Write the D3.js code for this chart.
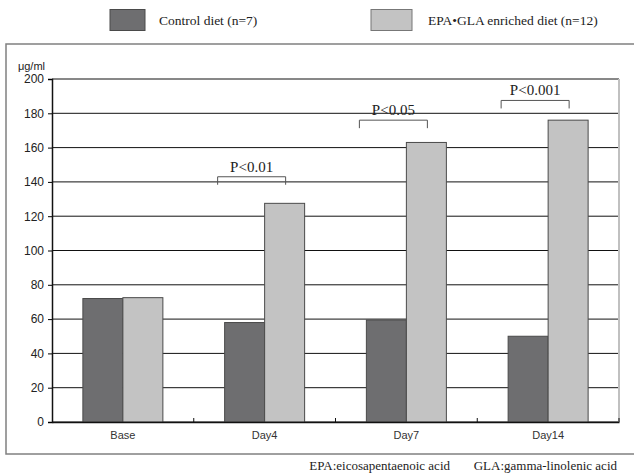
<!DOCTYPE html>
<html>
<head>
<meta charset="utf-8">
<script src="https://cdn.jsdelivr.net/npm/d3@7"></script>
<style>
  body { margin: 0; background: #fff; }
  .tick text { font-family: "Liberation Sans", Arial, sans-serif; }
</style>
</head>
<body>
<div id="chart"></div>
<script>
var categories = ["Base", "Day4", "Day7", "Day14"];
var controlValues = [72, 58, 59.5, 50];
var epaValues = [72.5, 127.5, 163, 176];
var seriesNames = ["Control diet (n=7)", "EPA\u2022GLA enriched diet (n=12)"];
var yTicks = [0, 20, 40, 60, 80, 100, 120, 140, 160, 180, 200];
var sigLabels = ["P<0.01", "P<0.05", "P<0.001"];
var sigCategories = ["Day4", "Day7", "Day14"];
var sigLevels = [143, 176, 187.5];
var footnotes = ["EPA:eicosapentaenoic acid", "GLA:gamma-linolenic acid"];

var w = 634;
var h = 475;
var colors = ["#6e6e70", "#c3c3c3"];

var svg = d3
  .select("#chart")
  .append("svg")
  .attr("width", w)
  .attr("height", h);

// outer frame
svg.append("rect")
  .attr("x", 6)
  .attr("y", 44)
  .attr("width", 640)
  .attr("height", 410)
  .attr("fill", "none")
  .attr("stroke", "#808080")
  .attr("stroke-width", 1.5);

// legend
var legend = svg.append("g");
var legendX = [110, 371];
var legendTextX = [159, 428];
seriesNames.forEach(function(name, i) {
  legend.append("rect")
    .attr("x", legendX[i])
    .attr("y", 9.5)
    .attr("width", i == 0 ? 35 : 41)
    .attr("height", 21)
    .attr("fill", colors[i])
    .attr("stroke", i == 0 ? "#4a4a4a" : "#777");
  legend.append("text")
    .attr("x", legendTextX[i])
    .attr("y", 25)
    .attr("font-family", "Liberation Serif, Times New Roman, serif")
    .attr("font-size", 13.5)
    .attr("fill", "#222")
    .text(name);
});

var x = d3
  .scaleBand()
  .domain(categories)
  .range([52, 619]);

var y = d3
  .scaleLinear()
  .domain([0, 200])
  .range([422, 79]);

var inner = d3
  .scaleBand()
  .domain([0, 1])
  .range([0, 80]);

// gridlines
svg.append("g")
  .selectAll("line")
  .data(yTicks)
  .enter()
  .append("line")
  .attr("x1", 52)
  .attr("x2", 619)
  .attr("y1", function(d) { return y(d); })
  .attr("y2", function(d) { return y(d); })
  .attr("stroke", "#111")
  .attr("stroke-width", 1);

// right border of plot area
svg.append("line")
  .attr("x1", 619)
  .attr("x2", 619)
  .attr("y1", y(200))
  .attr("y2", y(0))
  .attr("stroke", "#c0c0c0")
  .attr("stroke-width", 2);

// bars
var groups = svg.append("g")
  .selectAll("g")
  .data(categories)
  .enter()
  .append("g")
  .attr("transform", function(d) {
    return "translate(" + (x(d) + x.bandwidth() / 2 - 40) + ",0)";
  });

groups.selectAll("rect")
  .data(function(d, i) { return [controlValues[i], epaValues[i]]; })
  .enter()
  .append("rect")
  .attr("x", function(d, i) { return inner(i); })
  .attr("y", function(d) { return y(d); })
  .attr("width", inner.bandwidth())
  .attr("height", function(d) { return y(0) - y(d); })
  .attr("fill", function(d, i) { return colors[i]; })
  .attr("stroke", "#4a4a4a")
  .attr("stroke-width", 1);

// significance brackets
sigCategories.forEach(function(c, i) {
  var cx = x(c) + x.bandwidth() / 2;
  var x1 = cx - 47;
  var x2 = cx + 21;
  var yb = y(sigLevels[i]);
  svg.append("path")
    .attr("d", "M" + x1 + "," + (yb + 8) + "V" + yb + "H" + x2 + "V" + (yb + 8))
    .attr("fill", "none")
    .attr("stroke", "#555")
    .attr("stroke-width", 1);
  svg.append("text")
    .attr("x", (x1 + x2) / 2)
    .attr("y", yb - 5)
    .attr("text-anchor", "middle")
    .attr("font-family", "Liberation Serif, Times New Roman, serif")
    .attr("font-size", 15)
    .attr("fill", "#222")
    .text(sigLabels[i]);
});

// axes
var xAxis = d3.axisBottom(x).tickSize(0).tickPadding(9);
var yAxis = d3.axisLeft(y).tickValues(yTicks).tickSize(4).tickPadding(4);

var gx = svg.append("g")
  .attr("class", "x axis")
  .attr("transform", "translate(0," + y(0) + ")")
  .call(xAxis);
gx.select(".domain").attr("stroke", "#111").attr("stroke-width", 1.5);
gx.selectAll("text").attr("font-size", 11).attr("fill", "#333");

// inner separator ticks between categories
gx.selectAll(".sep")
  .data(categories)
  .enter()
  .append("line")
  .attr("class", "sep")
  .attr("x1", function(d) { return x(d) + x.bandwidth(); })
  .attr("x2", function(d) { return x(d) + x.bandwidth(); })
  .attr("y1", 0)
  .attr("y2", -4)
  .attr("stroke", "#111");

var gy = svg.append("g")
  .attr("class", "y axis")
  .attr("transform", "translate(52,0)")
  .call(yAxis);
gy.select(".domain").attr("stroke", "#111").attr("stroke-width", 1.5);
gy.selectAll("text").attr("font-size", 12).attr("fill", "#222");

svg.append("text")
  .attr("x", 45)
  .attr("y", 70)
  .attr("text-anchor", "end")
  .attr("font-family", "Liberation Sans, Arial, sans-serif")
  .attr("font-size", 11)
  .attr("fill", "#222")
  .text("\u03bcg/ml");

// footnote
var footX = [450, 617];
footnotes.forEach(function(t, i) {
  svg.append("text")
    .attr("x", footX[i])
    .attr("y", 470)
    .attr("text-anchor", "end")
    .attr("font-family", "Liberation Serif, Times New Roman, serif")
    .attr("font-size", 13)
    .attr("fill", "#222")
    .text(t);
});
</script>
</body>
</html>
